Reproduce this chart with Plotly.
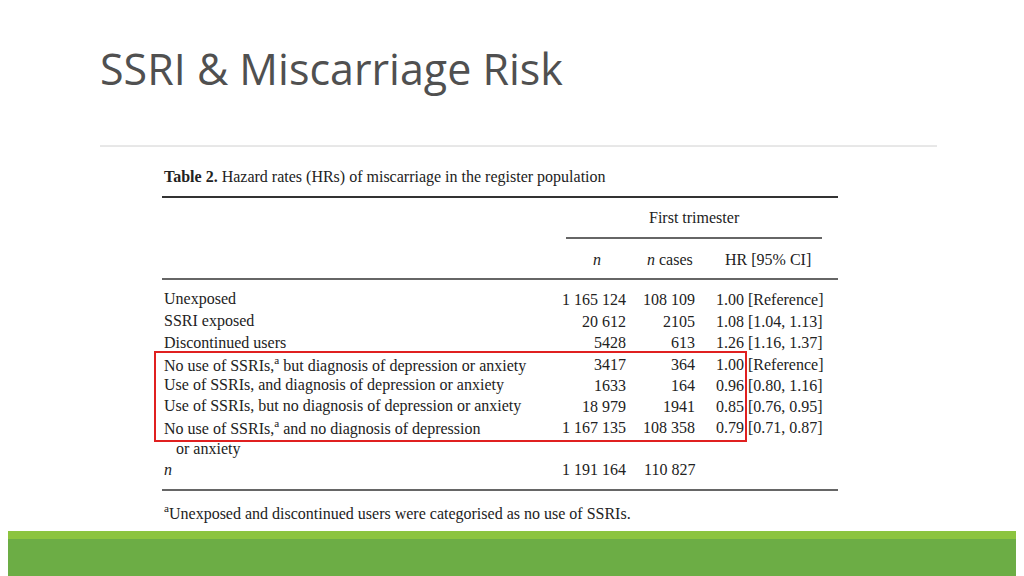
import plotly.graph_objects as go

title = "SSRI & Miscarriage Risk"
row_labels = ["Unexposed", "SSRI exposed", "Discontinued users",
              "No use of SSRIs,<sup>a</sup> but diagnosis of depression or anxiety",
              "Use of SSRIs, and diagnosis of depression or anxiety",
              "Use of SSRIs, but no diagnosis of depression or anxiety",
              "No use of SSRIs,<sup>a</sup> and no diagnosis of depression",
              "   or anxiety", "<i>n</i>"]
n_vals = ["1 165 124", "20 612", "5428", "3417", "1633", "18 979", "1 167 135", "", "1 191 164"]
n_cases = ["108 109", "2105", "613", "364", "164", "1941", "108 358", "", "110 827"]
hr_vals = ["1.00 [Reference]", "1.08 [1.04, 1.13]", "1.26 [1.16, 1.37]", "1.00 [Reference]",
           "0.96 [0.80, 1.16]", "0.85 [0.76, 0.95]", "0.79 [0.71, 0.87]", "", ""]
row_y = [299, 321, 342, 364, 385, 406, 427, 449, 469]

fig = go.Figure()
fig.update_xaxes(range=[8, 1032], visible=False)
fig.update_yaxes(range=[584, 8], visible=False)
serif = dict(family="Liberation Serif", size=16, color="#222")
ann = []
def t(x, y, s, anchor="left", font=serif):
    ann.append(dict(x=x, y=y, text=s, xanchor=anchor, yanchor="middle", showarrow=False,
                    xref="x", yref="y", font=font))

t(98, 68, title, font=dict(family="Open Sans", size=43, color="#505050"))
t(162, 177, "<b>Table 2.</b> Hazard rates (HRs) of miscarriage in the register population")
t(694, 217, "First trimester", anchor="center")
t(597, 259, "<i>n</i>", anchor="center")
t(670, 259, "<i>n</i> cases", anchor="center")
t(768, 259, "HR [95% CI]", anchor="center")
for i, y in enumerate(row_y):
    t(162, y, row_labels[i])
    t(628, y, n_vals[i], anchor="right")
    t(697, y, n_cases[i], anchor="right")
    t(714, y, hr_vals[i])
t(162, 512, "<sup>a</sup>Unexposed and discontinued users were categorised as no use of SSRIs.")

shapes = [
    dict(type="line", x0=100, x1=937, y0=146, y1=146, line=dict(color="#d0d0d0", width=1)),
    dict(type="line", x0=162, x1=838, y0=197, y1=197, line=dict(color="#333", width=2)),
    dict(type="line", x0=566, x1=822, y0=238, y1=238, line=dict(color="#333", width=1.5)),
    dict(type="line", x0=162, x1=838, y0=279, y1=279, line=dict(color="#333", width=1.5)),
    dict(type="line", x0=162, x1=838, y0=490, y1=490, line=dict(color="#333", width=1.5)),
    dict(type="rect", x0=155, x1=746, y0=352, y1=441, line=dict(color="#e02020", width=2)),
    dict(type="rect", x0=0, x1=1040, y0=531, y1=539, fillcolor="#8cc43f", line_width=0),
    dict(type="rect", x0=0, x1=1040, y0=539, y1=600, fillcolor="#6cad45", line_width=0),
]
for s in shapes:
    s.update(xref="x", yref="y")
fig.update_layout(width=1024, height=576, margin=dict(l=0, r=0, t=0, b=0),
                  paper_bgcolor="white", plot_bgcolor="white",
                  annotations=ann, shapes=shapes, showlegend=False)
fig.write_html("out.html")
